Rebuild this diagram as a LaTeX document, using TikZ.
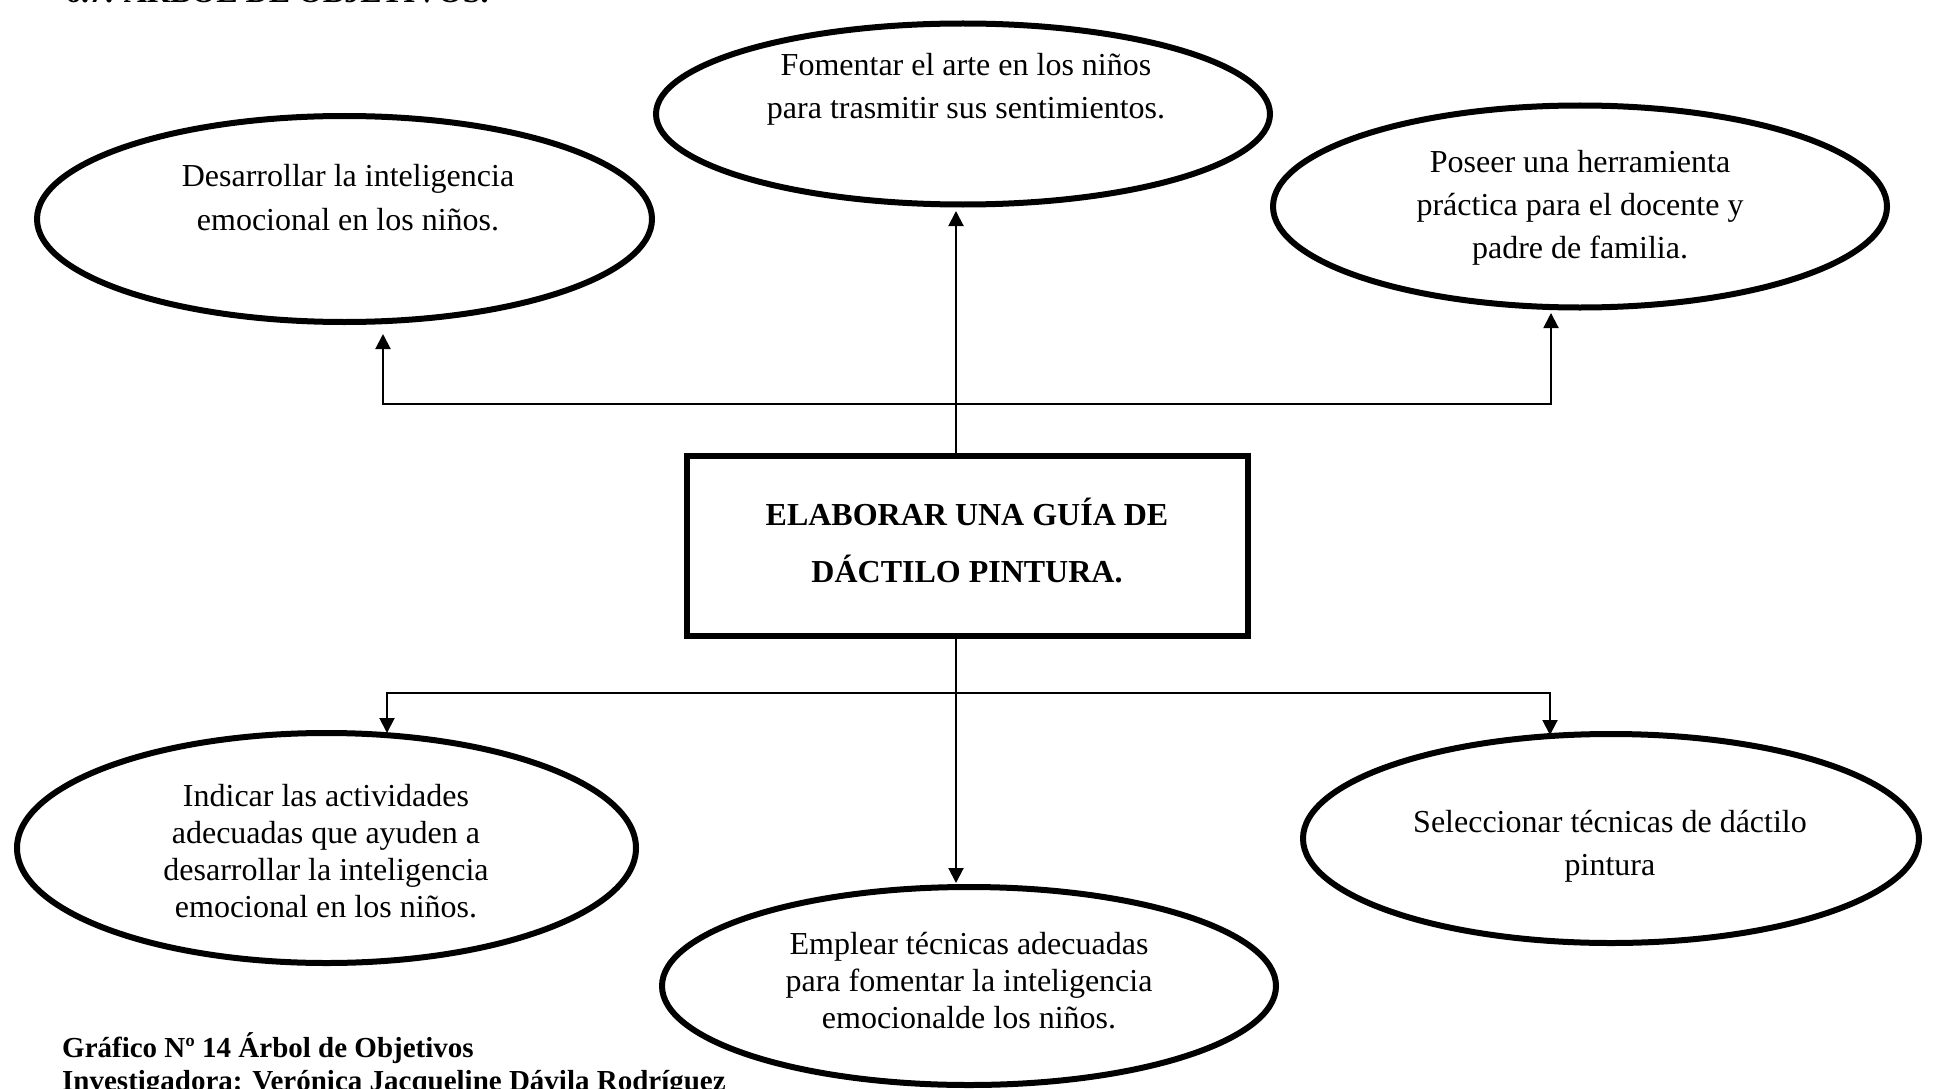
\documentclass[tikz,border=0pt]{standalone}
\usepackage{fontspec}
\setmainfont{Liberation Serif}
\usetikzlibrary{shapes.geometric,arrows.meta}
\tikzset{
  ell/.style={draw, ellipse, line width=6pt, inner sep=0pt},
  goalbox/.style={draw, rectangle, line width=6pt, inner sep=0pt},
  conn/.style={line width=2pt},
  arr/.style={line width=2pt, -{Triangle[width=15pt,length=15pt]}},
  txt/.style={align=center, inner sep=0pt, anchor=base},
}
\begin{document}
\begin{tikzpicture}[x=1pt,y=-1pt]
\useasboundingbox (0,0) rectangle (1935,1089);
% ellipses
\node[ell, minimum width=614, minimum height=181] (top) at (963,114) {};
\node[ell, minimum width=615, minimum height=206] (left) at (344.5,219) {};
\node[ell, minimum width=614, minimum height=202] (right) at (1580,206.5) {};
\node[ell, minimum width=619, minimum height=230] (bl) at (326.5,848) {};
\node[ell, minimum width=614, minimum height=198] (bc) at (969,986) {};
\node[ell, minimum width=616, minimum height=209] (br) at (1611,838.5) {};
\node[goalbox, minimum width=561, minimum height=180] (box) at (967.5,546) {};
% texts (anchor = baseline of the last line)
\node[txt, font=\fontsize{32}{43}\selectfont] (ttop) at (966,119) {Fomentar el arte en los niños\\para trasmitir sus sentimientos.};
\node[txt, font=\fontsize{32}{44}\selectfont] (tleft) at (348,230) {Desarrollar la inteligencia\\emocional en los niños.};
\node[txt, font=\fontsize{32}{43}\selectfont] (tright) at (1580,258) {Poseer una herramienta\\práctica para el docente y\\padre de familia.};
\node[txt, font=\fontsize{32}{57}\selectfont\bfseries] (tbox) at (967,582) {ELABORAR UNA GUÍA DE\\DÁCTILO PINTURA.};
\node[txt, font=\fontsize{32}{37}\selectfont] (tbl) at (326,917) {Indicar las actividades\\adecuadas que ayuden a\\desarrollar la inteligencia\\emocional en los niños.};
\node[txt, font=\fontsize{32}{37}\selectfont] (tbc) at (969,1028) {Emplear técnicas adecuadas\\para fomentar la inteligencia\\emocionalde los niños.};
\node[txt, font=\fontsize{32}{43}\selectfont] (tbr) at (1610,875) {Seleccionar técnicas de dáctilo\\pintura};
% heading and caption
\node[inner sep=0pt, anchor=base west, font=\fontsize{32}{38}\selectfont\bfseries] (head) at (65,3) {6.7. ÁRBOL DE OBJETIVOS.};
\node[inner sep=0pt, anchor=base west, font=\fontsize{29}{33}\selectfont\bfseries] (cap1) at (62,1057) {Gráfico Nº 14 Árbol de Objetivos};
\node[inner sep=0pt, anchor=base west, font=\fontsize{29}{33}\selectfont\bfseries] (cap2) at (62,1090) {Investigadora: Verónica Jacqueline Dávila Rodríguez};
% junction coordinates
\coordinate (tb) at (956,404);
\coordinate (tipL) at (383,334);
\coordinate (tipC) at (956,211);
\coordinate (tipR) at (1551,313);
\coordinate (bb) at (956,693);
\coordinate (bipL) at (387,733);
\coordinate (bipC) at (956,883);
\coordinate (bipR) at (1550,735);
% connectors
\draw[arr] (box.north -| tb) -- (tipC);
\draw[arr] (tb) -| (tipL);
\draw[arr] (tb) -| (tipR);
\draw[arr] (box.south -| bb) -- (bipC);
\draw[arr] (bb) -| (bipL);
\draw[arr] (bb) -| (bipR);
\end{tikzpicture}
\end{document}
